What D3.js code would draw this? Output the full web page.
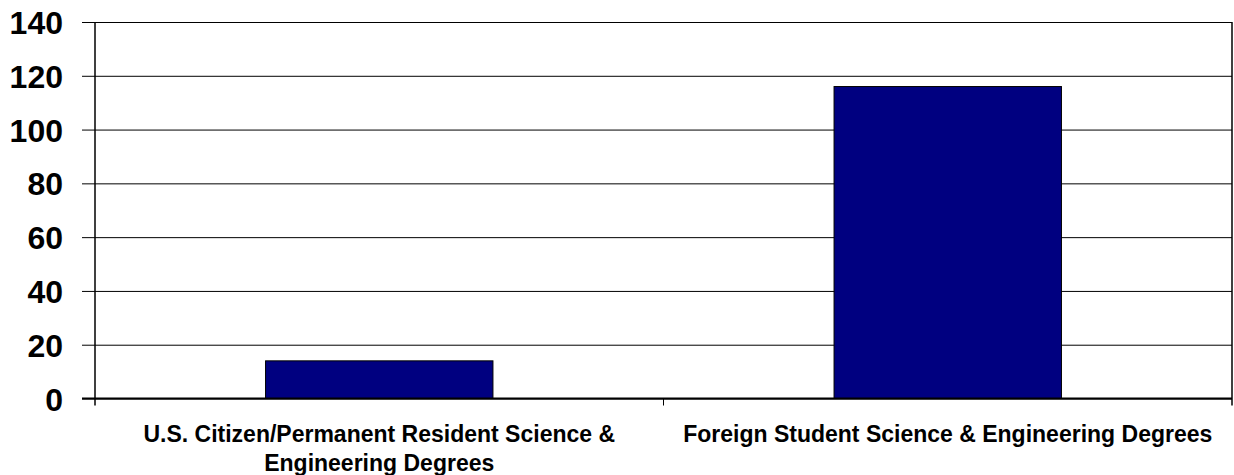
<!DOCTYPE html>
<html><head><meta charset="utf-8">
<script src="https://cdn.jsdelivr.net/npm/d3@7"></script>
<style>body{margin:0;background:#fff}svg{display:block}</style>
</head><body>
<svg id="c" width="1234" height="475"></svg>
<script>
const categories = [
  ["U.S. Citizen/Permanent Resident Science &", "Engineering Degrees"],
  ["Foreign Student Science & Engineering Degrees"]
];
const values = [14, 116];
const yTicks = [0, 20, 40, 60, 80, 100, 120, 140];

const svg = d3.select("#c");
const L = 95, R = 1232, T = 22, B = 398.5;
const x = d3.scaleBand().domain(d3.range(categories.length)).range([L, R]).paddingInner(0).paddingOuter(0);
const y = d3.scaleLinear().domain([0, 140]).range([B, T]);

// gridlines + y ticks
const yAxis = d3.axisLeft(y).tickValues(yTicks).tickSize(13).tickPadding(19);
const gy = svg.append("g").attr("transform", `translate(${L},0)`).call(yAxis);
gy.select(".domain").remove();
gy.selectAll(".tick line").attr("stroke", "#000").attr("x2", R - L).attr("x1", -13);
gy.selectAll(".tick text").attr("font-family", "Liberation Sans, Arial, sans-serif")
  .attr("font-weight", "bold").attr("font-size", "32px").attr("fill", "#000").attr("dy", "0.36em");

// bars
const bw = x.bandwidth() * 0.4;
svg.append("g").selectAll("rect").data(values).join("rect")
  .attr("x", (d, i) => x(i) + x.bandwidth() / 2 - bw / 2)
  .attr("y", d => y(d))
  .attr("width", bw)
  .attr("height", d => y(0) - y(d))
  .attr("fill", "#000080").attr("stroke", "#000").attr("stroke-width", 1);

// axes lines
svg.append("line").attr("x1", L).attr("x2", L).attr("y1", T).attr("y2", B + 7).attr("stroke", "#000").attr("stroke-width", 1.5);
svg.append("line").attr("x1", R).attr("x2", R).attr("y1", T).attr("y2", B + 7).attr("stroke", "#000").attr("stroke-width", 1.5);
svg.append("line").attr("x1", L - 13).attr("x2", R).attr("y1", B).attr("y2", B).attr("stroke", "#000").attr("stroke-width", 2);
// category boundary ticks
svg.append("g").selectAll("line").data(d3.range(1, categories.length)).join("line")
  .attr("x1", i => x(i)).attr("x2", i => x(i)).attr("y1", B).attr("y2", B + 7).attr("stroke", "#000");

// x labels
const lab = svg.append("g").selectAll("text").data(categories).join("text")
  .attr("x", (d, i) => x(i) + x.bandwidth() / 2)
  .attr("y", 442)
  .attr("text-anchor", "middle")
  .attr("font-family", "Liberation Sans, Arial, sans-serif")
  .attr("font-weight", "bold").attr("font-size", "23px").attr("fill", "#000");
lab.each(function(d, i) {
  d3.select(this).selectAll("tspan").data(d).join("tspan")
    .attr("x", x(i) + x.bandwidth() / 2)
    .attr("dy", (t, j) => j === 0 ? 0 : 29)
    .text(t => t);
});
</script>
</body></html>
